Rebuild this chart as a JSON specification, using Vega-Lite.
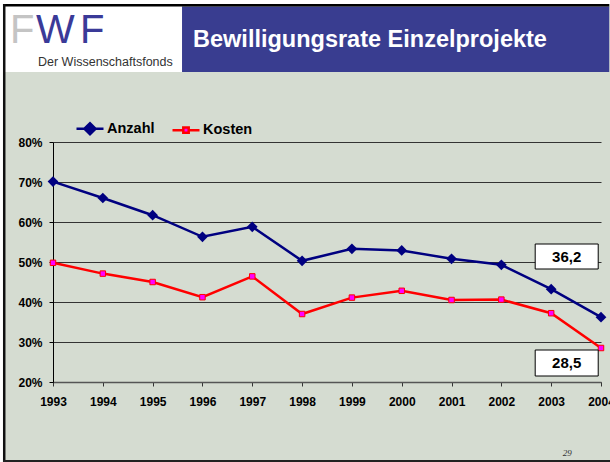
{
  "$schema": "https://vega.github.io/schema/vega-lite/v6.json",
  "width": 548,
  "height": 240,
  "autosize": {"type": "none"},
  "padding": {"left": 53, "top": 142, "right": 9, "bottom": 80},
  "background": "#d5dcd1",
  "config": {
    "view": {"stroke": null},
    "axis": {
      "labelFont": "Liberation Sans",
      "labelFontWeight": "bold",
      "labelFontSize": 12,
      "labelColor": "#000000",
      "labelFlush": false,
      "labelOverlap": false,
      "title": null
    },
    "axisX": {
      "grid": false,
      "tickCount": 12,
      "labelExpr": "'' + datum.value",
      "domainColor": "#555555",
      "domainWidth": 1.5,
      "tickColor": "#333333",
      "tickSize": 4,
      "labelPadding": 10
    },
    "axisY": {
      "grid": true,
      "tickCount": 7,
      "labelExpr": "datum.value + '%'",
      "gridColor": "#333333",
      "gridWidth": 1,
      "domainColor": "#000000",
      "domainWidth": 1,
      "tickColor": "#000000",
      "tickSize": 4,
      "labelPadding": 7
    }
  },
  "data": {
    "values": [
      {"year": 1993, "series": "Anzahl", "value": 70.1},
      {"year": 1994, "series": "Anzahl", "value": 66.0},
      {"year": 1995, "series": "Anzahl", "value": 61.7},
      {"year": 1996, "series": "Anzahl", "value": 56.3},
      {"year": 1997, "series": "Anzahl", "value": 58.8},
      {"year": 1998, "series": "Anzahl", "value": 50.3},
      {"year": 1999, "series": "Anzahl", "value": 53.3},
      {"year": 2000, "series": "Anzahl", "value": 52.9},
      {"year": 2001, "series": "Anzahl", "value": 50.8},
      {"year": 2002, "series": "Anzahl", "value": 49.3},
      {"year": 2003, "series": "Anzahl", "value": 43.2},
      {"year": 2004, "series": "Anzahl", "value": 36.2},
      {"year": 1993, "series": "Kosten", "value": 49.8},
      {"year": 1994, "series": "Kosten", "value": 47.1},
      {"year": 1995, "series": "Kosten", "value": 45.0},
      {"year": 1996, "series": "Kosten", "value": 41.2},
      {"year": 1997, "series": "Kosten", "value": 46.4},
      {"year": 1998, "series": "Kosten", "value": 37.0},
      {"year": 1999, "series": "Kosten", "value": 41.1},
      {"year": 2000, "series": "Kosten", "value": 42.8},
      {"year": 2001, "series": "Kosten", "value": 40.5},
      {"year": 2002, "series": "Kosten", "value": 40.6},
      {"year": 2003, "series": "Kosten", "value": 37.2},
      {"year": 2004, "series": "Kosten", "value": 28.5}
    ]
  },
  "layer": [
    {
      "mark": {"type": "line", "strokeWidth": 2.5},
      "encoding": {
        "x": {
          "field": "year", "type": "quantitative",
          "scale": {"domain": [1993, 2004], "nice": false, "zero": false}
        },
        "y": {
          "field": "value", "type": "quantitative",
          "scale": {"domain": [20, 80], "nice": false, "zero": false}
        },
        "color": {
          "field": "series", "type": "nominal",
          "scale": {"domain": ["Anzahl", "Kosten"], "range": ["#000080", "#ff0000"]},
          "legend": {
            "orient": "none",
            "legendX": 22,
            "legendY": -28.5,
            "direction": "horizontal",
            "title": null,
            "padding": 0,
            "symbolSize": 729,
            "symbolStrokeWidth": 2.5,
            "labelFont": "Liberation Sans",
            "labelFontWeight": "bold",
            "labelFontSize": 14.5,
            "labelColor": "#000000",
            "labelOffset": 2,
            "columnPadding": 12,
            "encode": {
              "symbols": {
                "update": {
                  "shape": {"signal": "datum.value === 'Anzahl' ? 'M-1,0L-0.4,0M0.4,0L1,0M-0.41,0L0,-0.41L0.41,0L0,0.41Z' : 'M-1,0L-0.22,0M0.22,0L1,0M-0.2,-0.2L0.2,-0.2L0.2,0.2L-0.2,0.2Z'"},
                  "fill": {"signal": "datum.value === 'Anzahl' ? '#000080' : '#ff00ff'"},
                  "fillOpacity": {"value": 1}
                }
              }
            }
          }
        }
      }
    },
    {
      "transform": [{"filter": "datum.series === 'Anzahl'"}],
      "mark": {"type": "point", "shape": "diamond", "filled": true, "size": 115, "color": "#000080", "opacity": 1},
      "encoding": {
        "x": {"field": "year", "type": "quantitative"},
        "y": {"field": "value", "type": "quantitative"}
      }
    },
    {
      "transform": [{"filter": "datum.series === 'Kosten'"}],
      "mark": {"type": "point", "shape": "square", "filled": true, "size": 30, "fill": "#ff00ff", "stroke": "#ff0000", "strokeWidth": 1, "opacity": 1},
      "encoding": {
        "x": {"field": "year", "type": "quantitative"},
        "y": {"field": "value", "type": "quantitative"}
      }
    },
    {
      "data": {"values": [{}]},
      "mark": {"type": "rect", "fill": "#ffffff", "stroke": "#000000", "strokeWidth": 1},
      "encoding": {
        "x": {"datum": 2002.679, "type": "quantitative"},
        "x2": {"datum": 2003.944},
        "y": {"datum": 54.5, "type": "quantitative"},
        "y2": {"datum": 48.25}
      }
    },
    {
      "data": {"values": [{}]},
      "mark": {"type": "rect", "fill": "#ffffff", "stroke": "#000000", "strokeWidth": 1},
      "encoding": {
        "x": {"datum": 2002.679, "type": "quantitative"},
        "x2": {"datum": 2003.944},
        "y": {"datum": 28.0, "type": "quantitative"},
        "y2": {"datum": 21.5}
      }
    },
    {
      "data": {"values": [{}]},
      "mark": {"type": "text", "text": "36,2", "font": "Liberation Sans", "fontWeight": "bold", "fontSize": 15, "color": "#000000", "baseline": "middle", "align": "center"},
      "encoding": {
        "x": {"datum": 2003.311, "type": "quantitative"},
        "y": {"datum": 51.375, "type": "quantitative"}
      }
    },
    {
      "data": {"values": [{}]},
      "mark": {"type": "text", "text": "28,5", "font": "Liberation Sans", "fontWeight": "bold", "fontSize": 15, "color": "#000000", "baseline": "middle", "align": "center"},
      "encoding": {
        "x": {"datum": 2003.311, "type": "quantitative"},
        "y": {"datum": 24.75, "type": "quantitative"}
      }
    },
    {
      "data": {"values": [{}]},
      "mark": {"type": "rect", "fill": "#ffffff"},
      "encoding": {
        "x": {"datum": 1991.896, "type": "quantitative"},
        "x2": {"datum": 1995.59},
        "y": {"datum": 116, "type": "quantitative"},
        "y2": {"datum": 97.5}
      }
    },
    {
      "data": {"values": [{}]},
      "mark": {"type": "rect", "fill": "#ffffff"},
      "encoding": {
        "x": {"datum": 1995.59, "type": "quantitative"},
        "x2": {"datum": 2004.225},
        "y": {"datum": 116, "type": "quantitative"},
        "y2": {"datum": 114.5}
      }
    },
    {
      "data": {"values": [{}]},
      "mark": {"type": "rect", "fill": "#ffffff"},
      "encoding": {
        "x": {"datum": 1991.896, "type": "quantitative"},
        "x2": {"datum": 1991.996},
        "y": {"datum": 97.5, "type": "quantitative"},
        "y2": {"datum": -0.5}
      }
    },
    {
      "data": {"values": [{}]},
      "mark": {"type": "rect", "fill": "#393d90"},
      "encoding": {
        "x": {"datum": 1995.59, "type": "quantitative"},
        "x2": {"datum": 2004.165},
        "y": {"datum": 113.875, "type": "quantitative"},
        "y2": {"datum": 97.5}
      }
    },
    {
      "data": {"values": [{}]},
      "mark": {"type": "rect", "fill": "#000000"},
      "encoding": {
        "x": {"datum": 1991.996, "type": "quantitative"},
        "x2": {"datum": 2004.165},
        "y": {"datum": 114.5, "type": "quantitative"},
        "y2": {"datum": 113.875}
      }
    },
    {
      "data": {"values": [{}]},
      "mark": {"type": "rect", "fill": "#111111"},
      "encoding": {
        "x": {"datum": 1991.996, "type": "quantitative"},
        "x2": {"datum": 1992.046},
        "y": {"datum": 114.5, "type": "quantitative"},
        "y2": {"datum": -0.5}
      }
    },
    {
      "data": {"values": [{}]},
      "mark": {"type": "rect", "fill": "#222222"},
      "encoding": {
        "x": {"datum": 1991.996, "type": "quantitative"},
        "x2": {"datum": 2004.225},
        "y": {"datum": 0.5, "type": "quantitative"},
        "y2": {"datum": -0.5}
      }
    },
    {
      "data": {"values": [{}]},
      "mark": {"type": "text", "text": "F", "font": "Liberation Sans", "fontSize": 40, "color": "#c4c4c4", "baseline": "alphabetic", "align": "left"},
      "encoding": {
        "x": {"datum": 1992.136, "type": "quantitative"},
        "y": {"datum": 104.75, "type": "quantitative"}
      }
    },
    {
      "data": {"values": [{}]},
      "mark": {"type": "text", "text": "W", "font": "Liberation Sans", "fontSize": 41, "color": "#3a3a98", "baseline": "alphabetic", "align": "left"},
      "encoding": {
        "x": {"datum": 1992.659, "type": "quantitative"},
        "y": {"datum": 104.75, "type": "quantitative"}
      }
    },
    {
      "data": {"values": [{}]},
      "mark": {"type": "text", "text": "F", "font": "Liberation Sans", "fontSize": 40, "color": "#3a3a98", "baseline": "alphabetic", "align": "left"},
      "encoding": {
        "x": {"datum": 1993.542, "type": "quantitative"},
        "y": {"datum": 104.75, "type": "quantitative"}
      }
    },
    {
      "data": {"values": [{}]},
      "mark": {"type": "text", "text": "Der Wissenschaftsfonds", "font": "Liberation Sans", "fontSize": 12.5, "color": "#333333", "baseline": "alphabetic", "align": "left"},
      "encoding": {
        "x": {"datum": 1992.699, "type": "quantitative"},
        "y": {"datum": 99.0, "type": "quantitative"}
      }
    },
    {
      "data": {"values": [{}]},
      "mark": {"type": "text", "text": "Bewilligungsrate Einzelprojekte", "font": "Liberation Sans", "fontWeight": "bold", "fontSize": 23.5, "color": "#ffffff", "baseline": "alphabetic", "align": "left"},
      "encoding": {
        "x": {"datum": 1995.811, "type": "quantitative"},
        "y": {"datum": 103.75, "type": "quantitative"}
      }
    },
    {
      "data": {"values": [{}]},
      "mark": {"type": "text", "text": "29", "font": "Liberation Serif", "fontStyle": "italic", "fontSize": 9, "color": "#333333", "baseline": "alphabetic", "align": "center"},
      "encoding": {
        "x": {"datum": 2003.321, "type": "quantitative"},
        "y": {"datum": 1.5, "type": "quantitative"}
      }
    }
  ]
}
